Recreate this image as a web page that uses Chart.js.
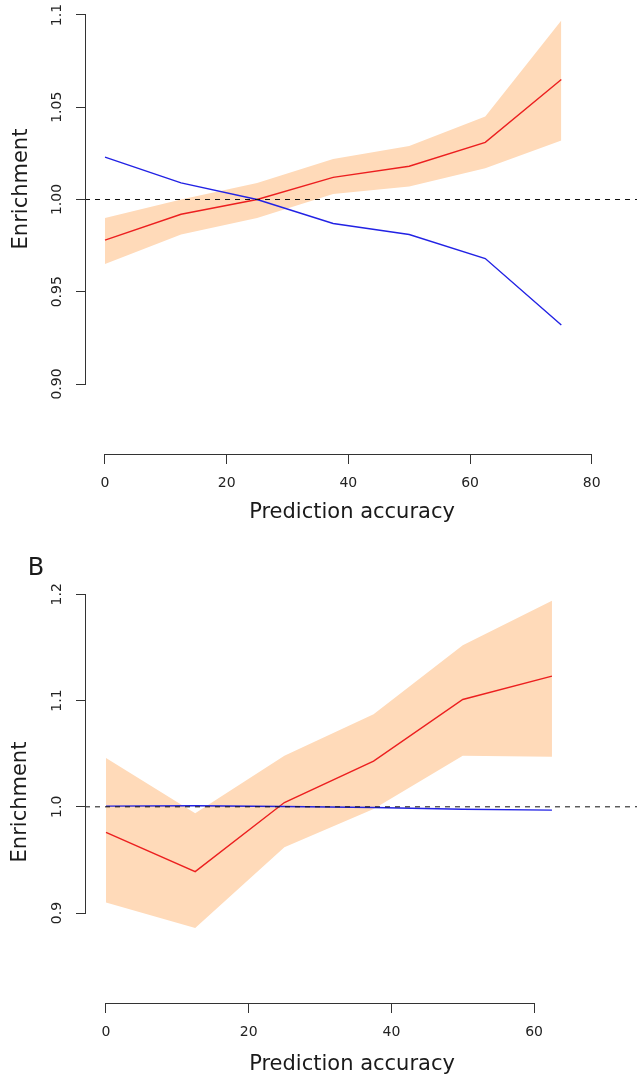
<!DOCTYPE html>
<html><head><meta charset="utf-8">
<script src="https://cdn.jsdelivr.net/npm/chart.js@4.4.1/dist/chart.umd.min.js"></script>
<style>
html,body{margin:0;padding:0;background:#fff;}
#wrap{position:relative;width:637px;height:1075px;overflow:hidden;}
canvas{display:block;position:absolute;left:0;}
#cA{top:0;}
#cB{top:545px;}
</style></head><body>
<div id="wrap">
<canvas id="cA" width="637" height="545"></canvas>
<canvas id="cB" width="637" height="530"></canvas>
</div>
<script>
// ---------- data ----------
// Panel A
const accuracyA   = [0, 12.5, 25, 37.5, 50, 62.5, 75];
const redA        = [0.978, 0.992, 1.000, 1.012, 1.018, 1.031, 1.065];
const upperA      = [0.990, 1.000, 1.009, 1.022, 1.029, 1.045, 1.097];
const lowerA      = [0.965, 0.981, 0.990, 1.003, 1.007, 1.017, 1.032];
const blueA       = [1.023, 1.009, 1.000, 0.987, 0.981, 0.968, 0.932];
const xTicksA     = [0, 20, 40, 60, 80];
const yTicksA     = [0.90, 0.95, 1.00, 1.05, 1.10];
const yTickLabelsA = ['0.90', '0.95', '1.00', '1.05', '1.1'];

// Panel B
const accuracyB   = [0, 12.5, 25, 37.5, 50, 62.5];
const redB        = [0.976, 0.939, 1.004, 1.043, 1.101, 1.123];
const upperB      = [1.046, 0.994, 1.048, 1.087, 1.152, 1.194];
const lowerB      = [0.910, 0.886, 0.962, 0.998, 1.048, 1.047];
const blueB       = [1.0007, 1.001, 1.0003, 0.9993, 0.9977, 0.9969];
const xTicksB     = [0, 20, 40, 60];
const yTicksB     = [0.9, 1.0, 1.1, 1.2];
const yTickLabelsB = ['0.9', '1.0', '1.1', '1.2'];

const referenceLevel = 1.0;
const xTitle = 'Prediction accuracy';
const yTitle = 'Enrichment';
const panelLabelB = 'B';

// ---------- rendering ----------
const FONT = "'DejaVu Sans', 'Noto Sans', sans-serif";

const rStyle = {
  id: 'rStyle',
  afterDraw(chart, args, o) {
    const ctx = chart.ctx;
    const x = chart.scales.x, y = chart.scales.y;
    const ca = chart.chartArea;
    ctx.save();
    ctx.strokeStyle = '#333';
    ctx.lineWidth = 1;
    // x axis line between first and last tick
    const xt = x.ticks, yt = y.ticks;
    const by = Math.round(ca.bottom - 0.5) + 0.5;
    ctx.beginPath();
    ctx.moveTo(Math.round(x.getPixelForValue(xt[0].value) - 0.5), by);
    ctx.lineTo(Math.round(x.getPixelForValue(xt[xt.length - 1].value) - 0.5) + 1, by);
    ctx.stroke();
    // y axis line between first and last tick
    const lx = Math.round(ca.left - 0.5) + 0.5;
    ctx.beginPath();
    ctx.moveTo(lx, Math.round(y.getPixelForValue(yt[0].value) - 0.5) + 1);
    ctx.lineTo(lx, Math.round(y.getPixelForValue(yt[yt.length - 1].value) - 0.5));
    ctx.stroke();
    // titles
    ctx.fillStyle = '#1a1a1a';
    ctx.font = '21px ' + FONT;
    ctx.textAlign = 'center';
    ctx.textBaseline = 'middle';
    ctx.fillText(o.xTitle, o.xTitlePos[0], o.xTitlePos[1]);
    ctx.save();
    ctx.translate(o.yTitlePos[0], o.yTitlePos[1]);
    ctx.rotate(-Math.PI / 2);
    ctx.fillText(o.yTitle, 0, 0);
    ctx.restore();
    if (o.panelLabel) {
      ctx.font = '24px ' + FONT;
      ctx.fillText(o.panelLabel, o.panelLabelPos[0], o.panelLabelPos[1]);
    }
    ctx.restore();
  }
};

function pts(xs, ys) { return xs.map((v, i) => ({ x: v, y: ys[i] })); }

function zeroPad(s) { s.paddingLeft = 0; s.paddingRight = 0; s.paddingTop = 0; s.paddingBottom = 0; }

function makeChart(id, p) {
  return new Chart(document.getElementById(id), {
    type: 'line',
    data: {
      datasets: [
        { label: 'lower', data: pts(p.xs, p.lower), borderWidth: 0, pointRadius: 0, fill: false, order: 10 },
        { label: 'upper', data: pts(p.xs, p.upper), borderWidth: 0, pointRadius: 0, fill: '-1',
          backgroundColor: '#FFDAB9', order: 9 },
        { label: 'red', data: pts(p.xs, p.red), borderColor: '#ec1f1f', borderWidth: 1.4, pointRadius: 0, fill: false, order: 2 },
        { label: 'blue', data: pts(p.xs, p.blue), borderColor: '#2222e4', borderWidth: 1.4, pointRadius: 0, fill: false, order: 1 },
        { label: 'ref', data: [{ x: p.xMin, y: referenceLevel }, { x: p.xMax, y: referenceLevel }],
          borderColor: '#111', borderWidth: 1, borderDash: [5, 5], pointRadius: 0, fill: false, order: 0 }
      ]
    },
    options: {
      responsive: false,
      animation: false,
      devicePixelRatio: 1,
      layout: { padding: 0 },
      plugins: {
        legend: { display: false },
        tooltip: { enabled: false },
        rStyle: p.text
      },
      scales: {
        x: {
          type: 'linear', position: 'bottom', min: p.xMin, max: p.xMax,
          afterBuildTicks: s => { s.ticks = p.xTicks.map(v => ({ value: v })); },
          afterFit: s => { s.height = p.xAxisHeight; zeroPad(s); },
          grid: { display: true, drawOnChartArea: false, drawTicks: true, tickLength: 10, color: '#333', lineWidth: 1 },
          border: { display: false },
          ticks: { autoSkip: false, minRotation: 0, maxRotation: 0, padding: 11, color: '#222',
                   font: { family: FONT, size: 14 }, callback: v => String(v) }
        },
        y: {
          type: 'linear', position: 'left', min: p.yMin, max: p.yMax,
          afterBuildTicks: s => { s.ticks = p.yTicks.map(v => ({ value: v })); },
          afterFit: s => { s.width = 85; zeroPad(s); },
          grid: { display: true, drawOnChartArea: false, drawTicks: true, tickLength: 9, color: '#333', lineWidth: 1 },
          border: { display: false },
          ticks: { autoSkip: false, minRotation: 90, maxRotation: 90, crossAlign: 'center', padding: p.yPad,
                   color: '#222', font: { family: FONT, size: 14 }, callback: (v, i) => p.yLabels[i] }
        }
      }
    },
    plugins: [rStyle]
  });
}

makeChart('cA', {
  xs: accuracyA, red: redA, upper: upperA, lower: lowerA, blue: blueA,
  xTicks: xTicksA, yTicks: yTicksA, yLabels: yTickLabelsA,
  xMin: -3.287, xMax: 87.44, yMin: 0.86206, yMax: 1.10813,
  xAxisHeight: 91, yPad: 3,
  text: { xTitle: xTitle, xTitlePos: [352, 513], yTitle: yTitle, yTitlePos: [22, 189] }
});

makeChart('cB', {
  xs: accuracyB, red: redB, upper: upperB, lower: lowerB, blue: blueB,
  xTicks: xTicksB, yTicks: yTicksB, yLabels: yTickLabelsB,
  xMin: -2.943, xMax: 74.42, yMin: 0.8154, yMax: 1.24637,
  xAxisHeight: 72, yPad: 8,
  text: { xTitle: xTitle, xTitlePos: [352, 520], yTitle: yTitle, yTitlePos: [21, 257],
          panelLabel: panelLabelB, panelLabelPos: [36, 24] }
});
</script>
</body></html>
